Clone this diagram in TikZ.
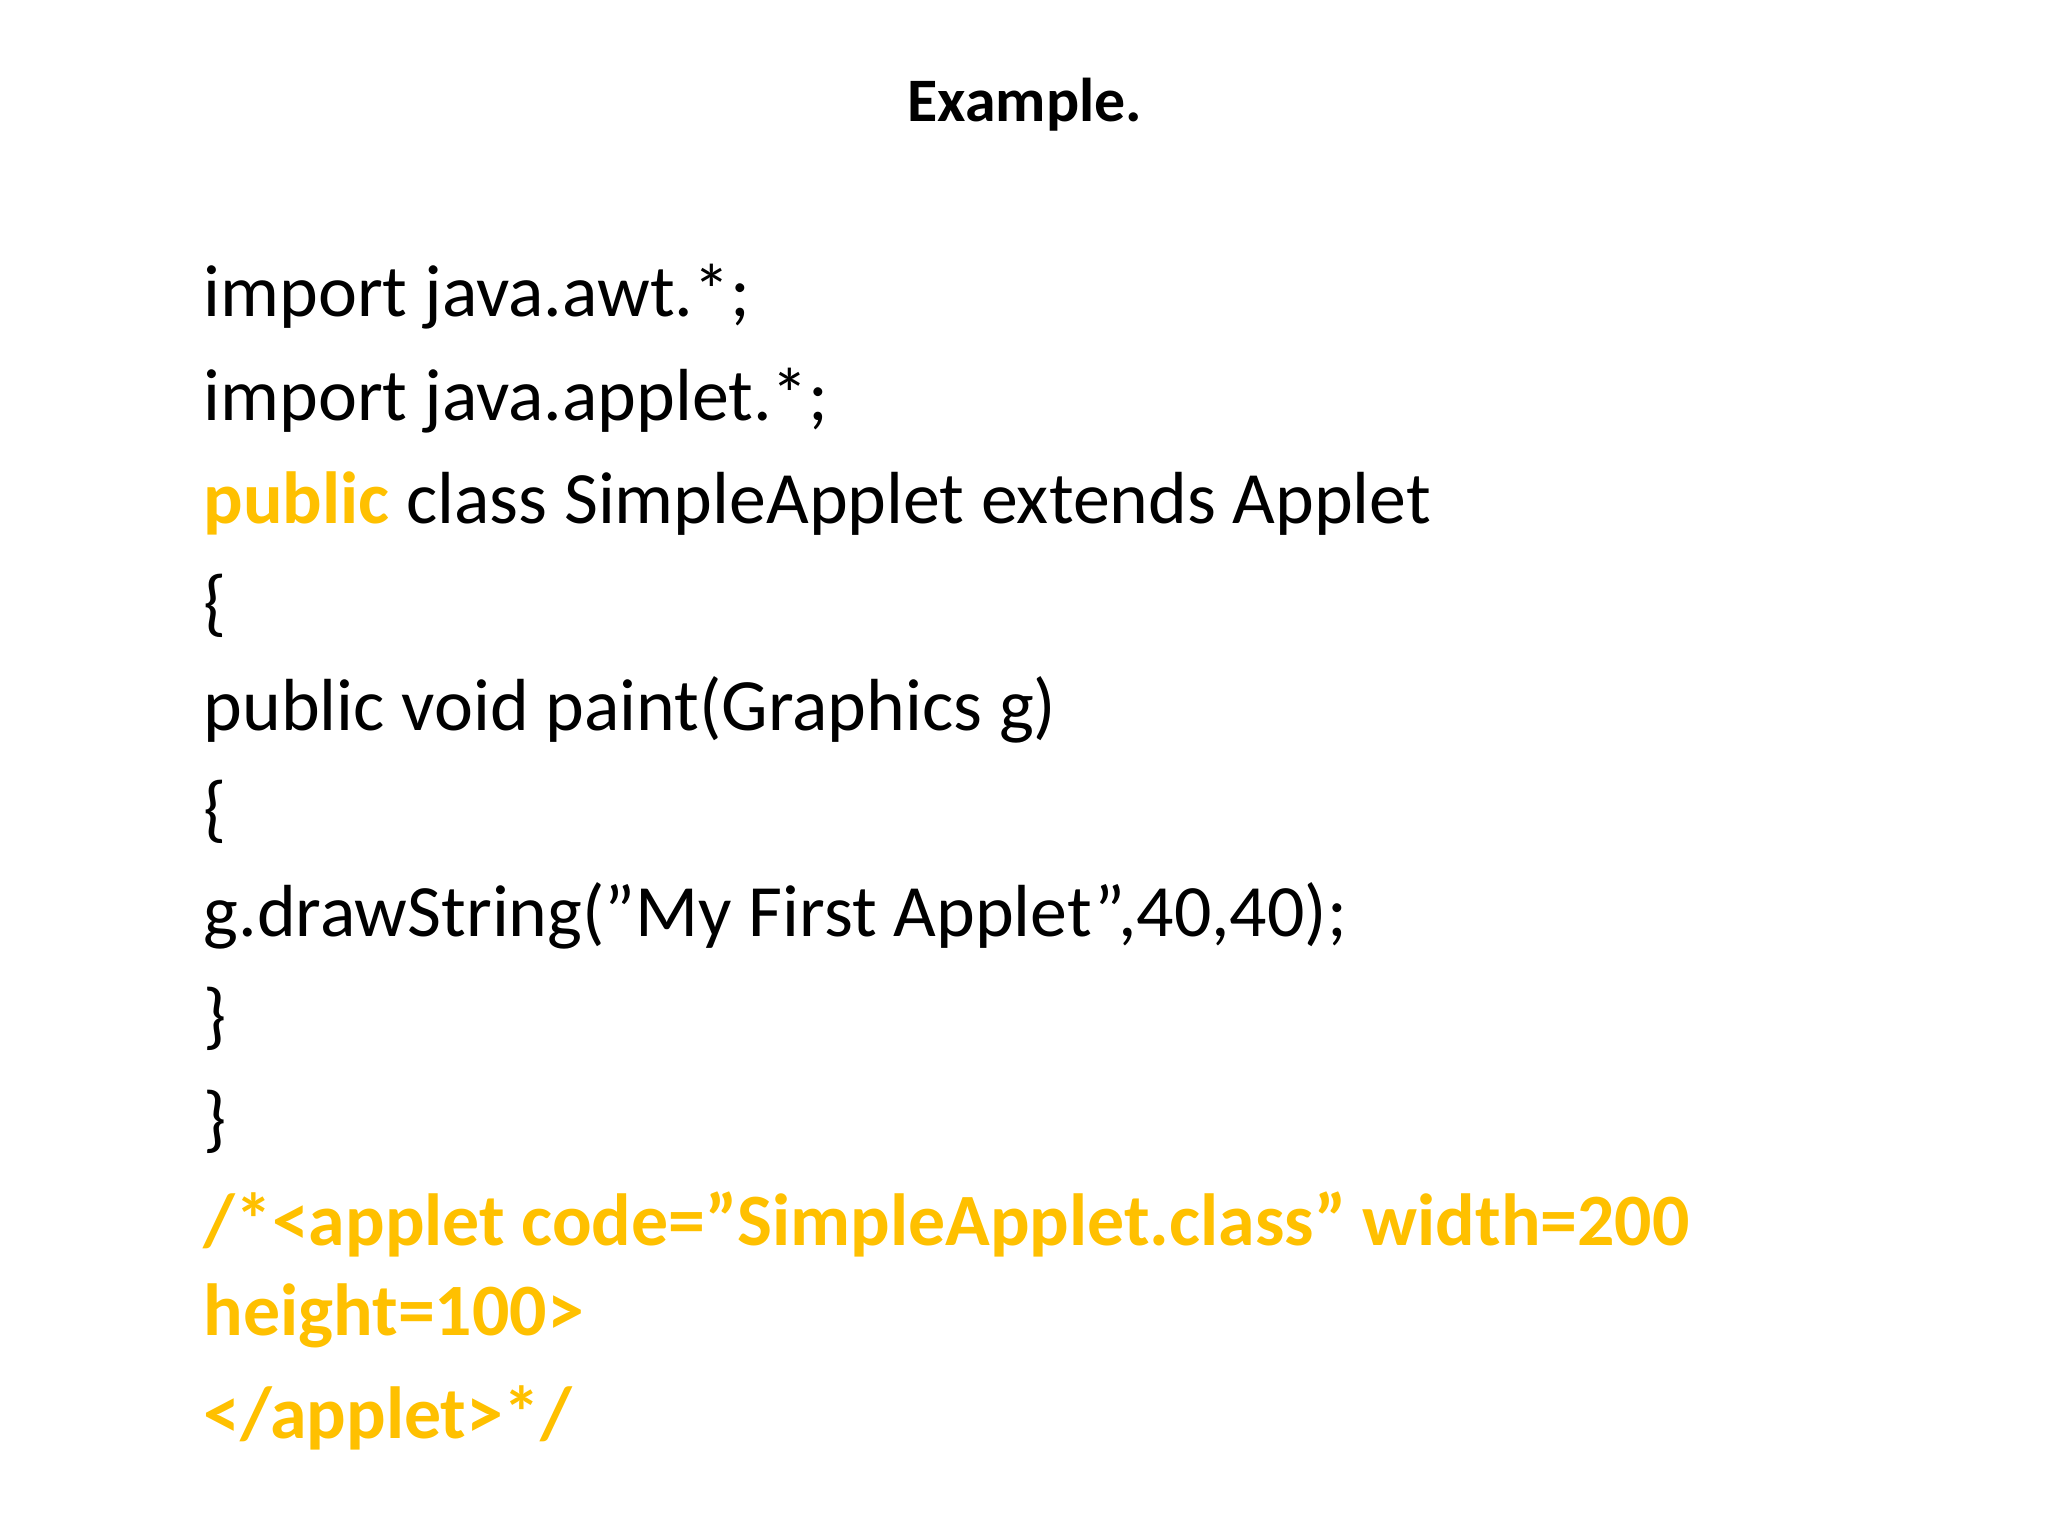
\documentclass[tikz,border=0pt]{standalone}
\usepackage{fontspec}
\setmainfont{Carlito}
\definecolor{hl}{HTML}{FFC000}
\newcommand{\dq}{\symbol{34}}
\begin{document}
\begin{tikzpicture}[x=1cm,y=1cm,
  code/.style={anchor=base west,inner sep=0pt,font=\fontsize{21}{25}\selectfont},
  hlc/.style={code,text=hl,font=\fontsize{21}{25}\selectfont\bfseries}]
\useasboundingbox (0,0) rectangle (20.48,-15.36);
\node[anchor=base,inner sep=0pt,font=\fontsize{17.6}{21}\selectfont\bfseries] (title) at (10.25,-1.22) {Example.};
\node[code] (l1) at (2.03,-3.17) {import java.awt.*;};
\node[code] (l2) at (2.03,-4.21) {import java.applet.*;};
\node[code] (l3) at (2.03,-5.24) {\textcolor{hl}{\bfseries public} class SimpleApplet extends Applet};
\node[code] (l4) at (2.03,-6.27) {\{};
\node[code] (l5) at (2.03,-7.30) {public void paint(Graphics g)};
\node[code] (l6) at (2.03,-8.33) {\{};
\node[code] (l7) at (2.03,-9.36) {g.drawString(\dq My First Applet\dq,40,40);};
\node[code] (l8) at (2.03,-10.40) {\}};
\node[code] (l9) at (2.03,-11.43) {\}};
\node[hlc] (l10) at (2.03,-12.45) {/*<applet code=\dq SimpleApplet.class\dq\ width=200};
\node[hlc] (l11) at (2.03,-13.35) {height=100>};
\node[hlc] (l12) at (2.03,-14.38) {</applet>*/};
\end{tikzpicture}
\end{document}
